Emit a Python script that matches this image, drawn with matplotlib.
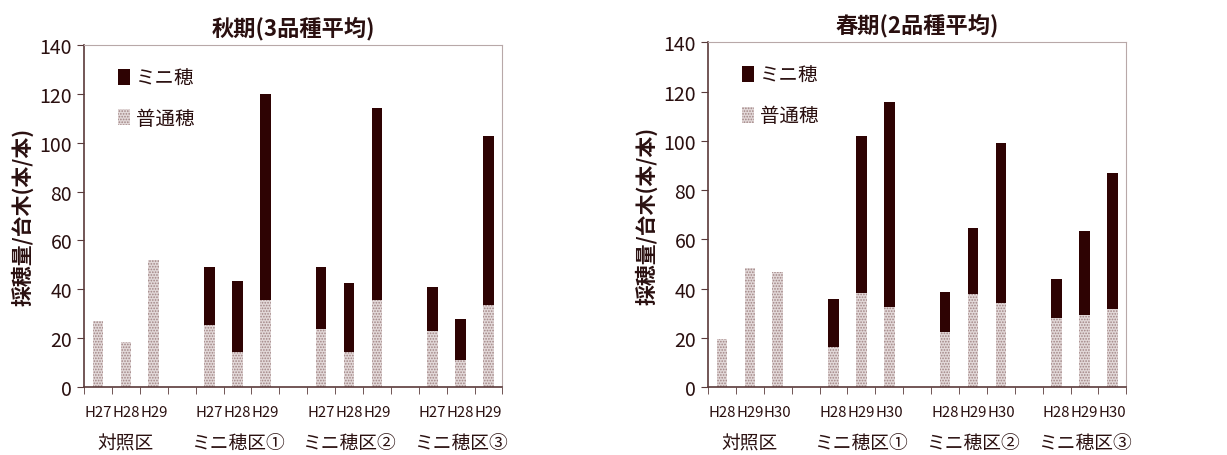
import numpy as np
import matplotlib
matplotlib.use('Agg')
import matplotlib.pyplot as plt

plt.rcParams['font.family'] = ['Noto Sans CJK JP', 'DejaVu Sans']
plt.rcParams['hatch.linewidth'] = 0.8

# data
groups = ['対照区', 'ミニ穂区①', 'ミニ穂区②', 'ミニ穂区③']
years_autumn = ['H27', 'H28', 'H29']
years_spring = ['H28', 'H29', 'H30']

# 秋期 (3品種平均)
autumn_normal = [27.0, 18.4, 51.9,
                 25.3, 14.3, 35.7,
                 23.6, 14.3, 35.5,
                 22.8, 11.1, 33.6]
autumn_mini = [0, 0, 0,
               24.0, 29.0, 84.1,
               25.7, 28.3, 78.8,
               18.2, 16.6, 69.1]

# 春期 (2品種平均)
spring_normal = [19.4, 48.5, 46.9,
                 16.4, 38.1, 32.7,
                 22.4, 37.9, 34.3,
                 27.9, 29.3, 31.6]
spring_mini = [0, 0, 0,
               19.2, 63.9, 83.0,
               16.4, 26.5, 64.9,
               15.9, 34.1, 55.4]

dark = '#2e0303'
txt = '#2a1010'
spine_c = '#5a3a3a'


def draw(ax, title, years, normal, mini):
    # 3 bars per group, one empty slot between groups
    xs = np.array([g * 4 + i for g in range(len(groups)) for i in range(3)])
    normal = np.array(normal)
    mini = np.array(mini)
    ax.bar(xs, normal, width=0.38, color='#e2d8d8', edgecolor='none',
           hatch='......', label='普通穂')
    for p in ax.patches:
        p.set_edgecolor('#a08484')
        p.set_linewidth(0)
    ax.bar(xs[mini > 0], mini[mini > 0], bottom=normal[mini > 0], width=0.38,
           color=dark, edgecolor='none', label='ミニ穂')

    ax.set_xlim(-0.5, 14.5)
    ax.set_ylim(0, 140)
    ax.set_yticks(np.arange(0, 141, 20))
    ax.set_xticks(xs)
    ax.set_xticklabels(years * len(groups), fontsize=10.8, color=txt)
    ax.set_xticks(np.arange(-0.5, 15, 1), minor=True)
    ax.tick_params(axis='x', which='major', length=0, pad=13)
    ax.tick_params(axis='x', which='minor', length=5, color=spine_c, direction='out')
    ax.tick_params(axis='y', length=5, color=spine_c, labelsize=14, labelcolor=txt)

    sec = ax.secondary_xaxis('bottom')
    sec.set_xticks([g * 4 + 1 for g in range(len(groups))])
    sec.set_xticklabels(groups, fontsize=13.5, color=txt)
    sec.tick_params(length=0, pad=33)
    sec.spines['bottom'].set_visible(False)

    for s in ['left', 'bottom']:
        ax.spines[s].set_color(spine_c)
        ax.spines[s].set_linewidth(1.2)
    for s in ['top', 'right']:
        ax.spines[s].set_color('#b8a8a8')
        ax.spines[s].set_linewidth(0.8)

    ax.set_ylabel('採穂量/台木(本/本)', fontsize=15, fontweight='bold', color=txt,
                  labelpad=4)
    ax.set_title(title, fontsize=16, fontweight='bold', color=txt, pad=8)

    h, l = ax.get_legend_handles_labels()
    ax.legend(h[::-1], l[::-1], loc='upper left', frameon=False, fontsize=14,
              handlelength=0.6, handleheight=0.9, handletextpad=0.3,
              labelspacing=1.0, bbox_to_anchor=(0.04, 0.985), labelcolor=txt)


fig = plt.figure(figsize=(12.27, 4.56), dpi=100)
ax1 = fig.add_axes([0.0685, 0.149, 0.341, 0.75])
ax2 = fig.add_axes([0.577, 0.149, 0.341, 0.756])

draw(ax1, '秋期(3品種平均)', years_autumn, autumn_normal, autumn_mini)
draw(ax2, '春期(2品種平均)', years_spring, spring_normal, spring_mini)

fig.savefig('out.png', dpi=100)
